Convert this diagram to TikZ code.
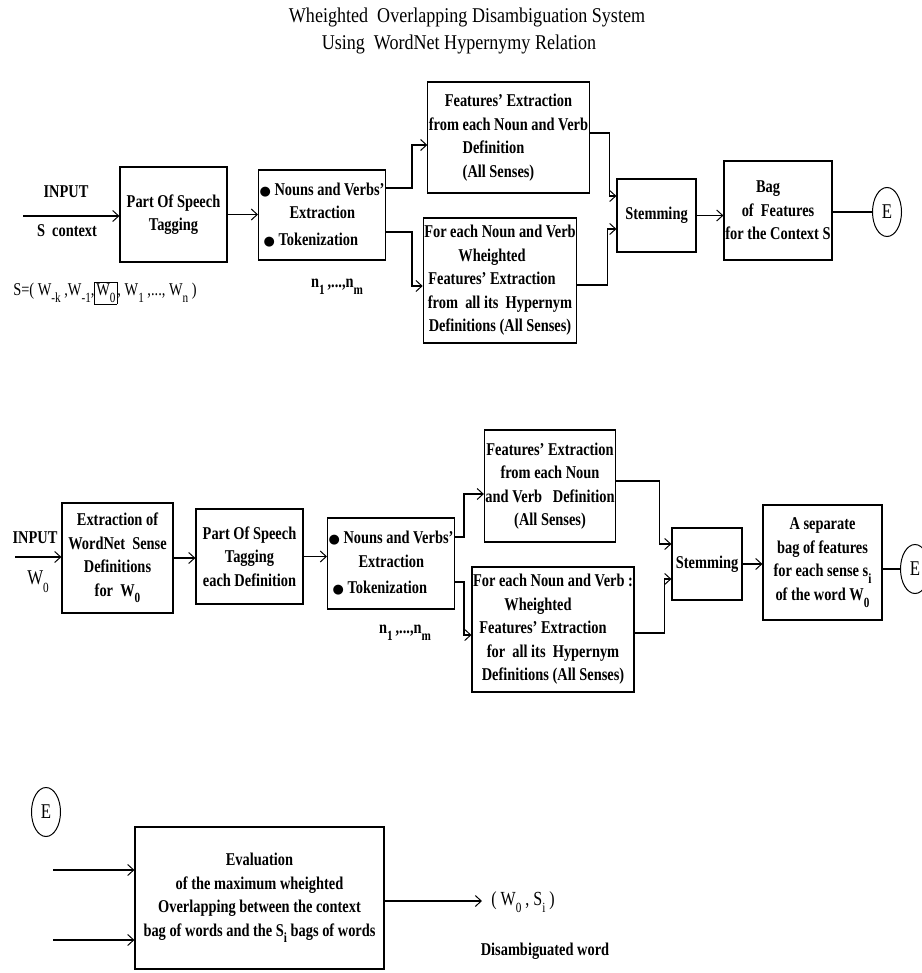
\documentclass[tikz,border=0pt]{standalone}
\usepackage{fontspec}
\setmainfont{Liberation Serif}[FakeStretch=0.8]
\newfontfamily\titlefont{Liberation Serif}[FakeStretch=0.86]
\newfontfamily\dejavu{DejaVu Sans}
\usetikzlibrary{arrows.meta,shapes.geometric,calc}
\newcommand\sbs[1]{\raisebox{-0.38em}{\fontsize{14}{14}\selectfont #1}}
\newcommand\bul{{\dejavu\fontsize{13}{13}\selectfont ●}}
\newcommand\bfbody{\fontsize{18}{23.5}\selectfont\bfseries}
\begin{document}
\begin{tikzpicture}[x=1pt,y=-1pt,
  box/.style={draw, line width=1.2pt, inner sep=1pt, align=center, font=\bfbody},
  ell/.style={draw, ellipse, line width=1pt, inner sep=0pt, minimum width=29, minimum height=49, font=\fontsize{21}{21}\selectfont},
  lbl/.style={inner sep=0pt, font=\bfbody},
  reg/.style={inner sep=0pt, font=\fontsize{18}{20}\selectfont},
  arr/.style={line width=1.2pt, -{Straight Barb[length=6pt,width=11pt,line width=1pt]}},
  con/.style={line width=1.2pt}]
\fill[white] (0,0) rectangle (921,973);
\useasboundingbox (0,0) rectangle (921,973);

% title
\node[inner sep=0pt, font=\titlefont\fontsize{21}{21}\selectfont] (t1) at (467,17) {Wheighted\ \ Overlapping Disambiguation System};
\node[inner sep=0pt, font=\titlefont\fontsize{21}{21}\selectfont] (t2) at (459,44) {Using\ \ WordNet Hypernymy Relation};

% ---------- row 1 ----------
\node[lbl] (inp1) at (66,192) {INPUT};
\node[lbl] (sctx) at (67,231) {S\ \ context};
\coordinate (in1) at (23,216);
\node[box, minimum width=107, minimum height=95] (pos1) at (173.5,214.5) {Part Of Speech\\Tagging};
\node[box, minimum width=126, minimum height=90, align=left] (nv1) at (322,215)
  {\bul\ Nouns and Verbs'\\\hspace*{30pt}Extraction\\[3pt]\hspace*{4pt}\bul\ Tokenization};
\node[box, minimum width=153, minimum height=111] (feat1) at (508.5,137.5)
  {Features' Extraction\\from each Noun and Verb\\\hspace*{-30pt}Definition\\\hspace*{-20pt}(All Senses)};
\node[box, minimum width=150, minimum height=125] (hyp1) at (500,280.5)
  {For each Noun and Verb\\\hspace*{-16pt}Wheighted\\\hspace*{-16pt}Features' Extraction\\from\ \ all its\ \ Hypernym\\Definitions (All Senses)};
\node[box, minimum width=79, minimum height=73] (stem1) at (656.5,215.5) {Stemming};
\node[box, minimum width=108, minimum height=99] (bag1) at (778,210.5)
  {\hspace*{-20pt}Bag\\of\ \ Features\\for the Context S};
\node[ell] (e1) at (887,212) {E};
\node[reg] (seq) at (105,293) {\setlength\fboxsep{1.5pt}S=( W\sbs{-k} ,W\sbs{-1},\fbox{W\sbs{0}}, W\sbs{1} ,..., W\sbs{n} )};
\node[lbl] (nm1) at (337,287) {n\sbs{1}\,,...,n\sbs{m}};

\draw[arr] (in1) -- (in1 -| pos1.west);
\draw[arr] (pos1.east) -- (pos1.east -| nv1.west);
\draw[arr] ([yshift=27pt]nv1.east) -- ++(26,0) |- ([yshift=-7.5pt]feat1.west);
\draw[arr] ([yshift=-17pt]nv1.east) -- ++(26,0) |- ([yshift=-5.5pt]hyp1.west);
\draw[arr] ([yshift=4.5pt]feat1.east) -- ++(20,0) |- ([yshift=19.5pt]stem1.west);
\draw[arr] ([yshift=-4.5pt]hyp1.east) -- ++(30,0) |- ([yshift=-13.5pt]stem1.west);
\draw[arr] (stem1.east) -- (stem1.east -| bag1.west);
\draw[con] (e1.west -| bag1.east) -- (e1.west);

% ---------- row 2 ----------
\node[lbl] (inp2) at (35,538) {INPUT};
\node[reg] (w0) at (38,582) {\fontsize{21}{21}\selectfont W\sbs{0}};
\coordinate (in2) at (15,557);
\node[box, minimum width=111, minimum height=110] (ext2) at (117.5,558)
  {Extraction of\\WordNet\ \ Sense\\Definitions\\for\ \ W\sbs{0}};
\node[box, minimum width=107, minimum height=95] (pos2) at (249.5,556.5)
  {Part Of Speech\\Tagging\\each Definition};
\node[box, minimum width=126, minimum height=91, align=left] (nv2) at (391,563.5)
  {\bul\ Nouns and Verbs'\\\hspace*{30pt}Extraction\\[3pt]\hspace*{4pt}\bul\ Tokenization};
\node[box, minimum width=130, minimum height=112] (feat2) at (550,486)
  {Features' Extraction\\from each Noun\\and Verb\ \ \ Definition\\(All Senses)};
\node[box, minimum width=150, minimum height=125] (hyp2) at (553,629.5)
  {For each Noun and Verb :\\\hspace*{-30pt}Wheighted\\\hspace*{-20pt}Features' Extraction\\for\ \ all its\ \ Hypernym\\Definitions (All Senses)};
\node[box, minimum width=70, minimum height=72] (stem2) at (707,564) {Stemming};
\node[box, minimum width=119, minimum height=115] (bag2) at (822.5,562.5)
  {A separate\\bag of features\\for each sense s\sbs{i}\\of the word W\sbs{0}};
\node[ell] (e2) at (915,569) {E};
\node[lbl] (nm2) at (405,633) {n\sbs{1}\,,...,n\sbs{m}};

\draw[arr] (in2) -- (in2 -| ext2.west);
\draw[arr] (ext2.east) -- (ext2.east -| pos2.west);
\draw[arr] (pos2.east) -- (pos2.east -| nv2.west);
\draw[arr] ([yshift=26.5pt]nv2.east) -- ++(9,0) |- ([yshift=-8pt]feat2.west);
\draw[arr] ([yshift=-18.5pt]nv2.east) -- ++(9,0) |- ([yshift=-5.5pt]hyp2.west);
\draw[arr] ([yshift=5pt]feat2.east) -- ++(43,0) |- ([yshift=20pt]stem2.west);
\draw[arr] ([yshift=-3.5pt]hyp2.east) -- ++(30,0) |- ([yshift=-15pt]stem2.west);
\draw[arr] (stem2.east) -- (stem2.east -| bag2.west);
\draw[con] (e2.west -| bag2.east) -- (e2.west);

% ---------- bottom ----------
\node[ell] (e3) at (46,812) {E};
\node[box, minimum width=249, minimum height=142] (eval) at (259.5,898)
  {Evaluation\\of the maximum wheighted\\Overlapping between the context\\bag of words and the S\sbs{i} bags of words};
\coordinate (a1) at (53,870);
\coordinate (a2) at (53,940);
\coordinate (out) at (482,901);
\draw[arr] (a1) -- (a1 -| eval.west);
\draw[arr] (a2) -- (a2 -| eval.west);
\draw[arr] (out -| eval.east) -- (out);
\node[reg, font=\fontsize{20}{20}\selectfont] (res) at (523,902) {( W\sbs{0} , S\sbs{i} )};
\node[lbl] (dis) at (545,951) {Disambiguated word};
\end{tikzpicture}
\end{document}
